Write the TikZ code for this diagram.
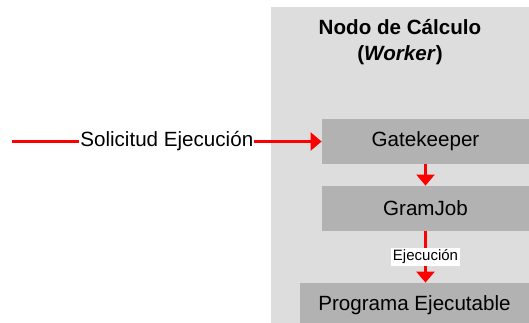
\documentclass[tikz,border=0pt]{standalone}
\usepackage{fontspec}
\setmainfont{Liberation Sans}
\usetikzlibrary{arrows.meta}
\definecolor{panelgray}{RGB}{221,221,221}
\definecolor{boxgray}{RGB}{178,178,178}

\begin{document}
\begin{tikzpicture}[x=0.5pt, y=-0.5pt,
		box/.style={fill=boxgray, inner sep=0pt, minimum height=22.5pt, font=\fontsize{10.3}{12}\selectfont},
		flow/.style={draw=red, line width=1.2pt, -{Triangle[length=5.5pt, width=9pt]}}]
				\clip (0,0) rectangle (529,322);
				\fill[panelgray] (271,7) rectangle (560,360);
				\node[align=center, font=\bfseries\fontsize{10.3}{13}\selectfont] (title) at (400,42.5) {Nodo de Cálculo\\(\textit{Worker})};
				\node[box, minimum width=103.5pt] (gate) at (425.5,141.5) {Gatekeeper};
				\node[box, minimum width=103.5pt] (gram) at (425.5,208.5) {GramJob};
				\node[box, minimum width=114.5pt] (prog) at (414.5,305.5) {Programa Ejecutable};
				\coordinate (src) at (12,141.5);
				\draw[flow] (src) -- (gate) node[midway, fill=white, inner sep=0.5pt, font=\fontsize{10.3}{12}\selectfont] {Solicitud Ejecución};
				\draw[flow] (gate) -- (gram);
				\draw[flow] (gram) -- (gram |- prog.north) node[midway, fill=white, inner sep=1pt, font=\fontsize{7.5}{9}\selectfont] {Ejecución};
			\end{tikzpicture}
\end{document}
